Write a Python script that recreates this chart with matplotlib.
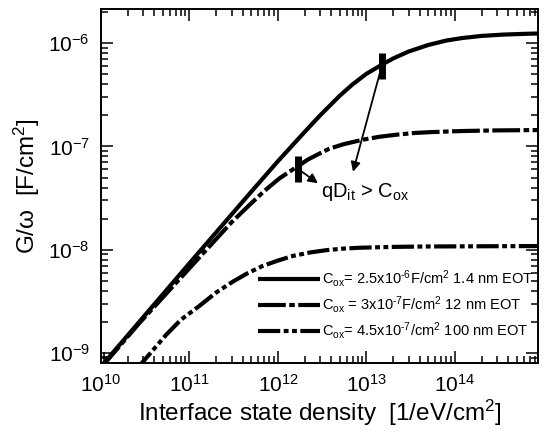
import matplotlib
matplotlib.use("Agg")
from matplotlib import pyplot as plt
from matplotlib.ticker import NullFormatter

plt.rcParams["font.family"] = ["Liberation Sans", "DejaVu Sans"]
plt.rcParams["mathtext.fontset"] = "custom"
plt.rcParams["mathtext.rm"] = "Liberation Sans"
plt.rcParams["mathtext.it"] = "Liberation Sans:italic"
plt.rcParams["mathtext.bf"] = "Liberation Sans:bold"
plt.rcParams["axes.unicode_minus"] = False
plt.rcParams["lines.scale_dashes"] = False

# ---- interface state density [1/eV/cm^2] and G/omega [F/cm^2]
dit_1 = [1e10, 1e11, 5e11, 1e12, 2e12, 3e12, 5e12, 7e12, 1e13, 1.5e13,
         2e13, 3e13, 5e13, 8e13, 1.2e14, 2e14, 3.5e14, 6e14, 8.7e14]
g_1 = [7.4e-10, 7.4e-9, 3.65e-8, 7.2e-8, 1.38e-7, 2.0e-7, 3.1e-7, 4.0e-7,
       5.05e-7, 6.2e-7, 7.1e-7, 8.3e-7, 9.6e-7, 1.06e-6, 1.12e-6,
       1.175e-6, 1.21e-6, 1.23e-6, 1.24e-6]

dit_2 = [1e10, 2.7e10, 6.7e10, 1.67e11, 3e11, 4.76e11, 7e11, 1.04e12,
         1.61e12, 2.2e12, 3e12, 3.8e12, 5.5e12, 9e12, 1.4e13, 2.2e13,
         3.5e13, 5.2e13, 1.2e14, 3e14, 8.7e14]
g_2 = [7.2e-10, 1.94e-9, 4.55e-9, 1.07e-8, 1.85e-8, 2.71e-8, 3.7e-8, 4.91e-8,
       6.3e-8, 7.5e-8, 8.6e-8, 9.5e-8, 1.05e-7, 1.16e-7, 1.24e-7, 1.3e-7,
       1.35e-7, 1.375e-7, 1.41e-7, 1.43e-7, 1.44e-7]

dit_3 = [2.5e10, 3.15e10, 5.41e10, 8e10, 1.29e11, 2e11, 3.08e11, 4.5e11,
         6.67e11, 1e12, 1.47e12, 2.3e12, 3.52e12, 5.5e12, 8.37e12, 2e13,
         4.77e13, 2e14, 8.7e14]
g_3 = [6.9e-10, 8.7e-10, 1.49e-9, 2.1e-9, 2.85e-9, 3.85e-9, 4.9e-9, 5.9e-9,
       6.95e-9, 7.85e-9, 8.7e-9, 9.4e-9, 9.9e-9, 1.025e-8, 1.045e-8,
       1.065e-8, 1.075e-8, 1.08e-8, 1.085e-8]

labels = [
    r"C$_{\rm ox}$= 2.5x10$^{\rm ‐6}$F/cm$^{\rm 2}$ 1.4 nm EOT",
    r"C$_{\rm ox}$ = 3x10$^{\rm ‐7}$F/cm$^{\rm 2}$ 12 nm EOT",
    r"C$_{\rm ox}$= 4.5x10$^{\rm ‐7}$/cm$^{\rm 2}$ 100 nm EOT",
]

# where qDit reaches Cox on the two upper curves
mark_dit = [1.49e13, 1.67e12]
mark_g = [6.0e-7, 6.1e-8]
arrow_heads_dit = [7.05e12, 2.83e12]
arrow_heads_g = [5.69e-8, 4.4e-8]

fig = plt.figure(figsize=(5.46, 4.32), dpi=100)
ax = fig.add_axes([0.185, 0.1597, 0.8004, 0.8194])

lw = 3.0
ax.plot(dit_1, g_1, color="black", lw=lw, solid_capstyle="butt", label=labels[0])
ax.plot(dit_2, g_2, color="black", lw=lw, dashes=(20, 2.5, 4, 2.5), label=labels[1])
ax.plot(dit_3, g_3, color="black", lw=lw,
        dashes=(16, 2.5, 3.5, 2.5, 3.5, 2.5), label=labels[2])

ax.plot(mark_dit, mark_g, ls="none", marker="|", ms=19, mew=5, color="black")
ax.plot([1.08e10], [9.2e-10], ls="none", marker="+", ms=7, mew=1.2, color="black")
for i in range(2):
    ax.annotate("", xy=(arrow_heads_dit[i], arrow_heads_g[i]),
                xytext=(mark_dit[i], mark_g[i]),
                arrowprops=dict(arrowstyle="-|>", color="black", lw=1.3,
                                mutation_scale=14, shrinkA=0, shrinkB=0))
ax.text(3.09e12, 3.24e-8, r"qD$_{\rm it}$ > C$_{\rm ox}$", fontsize=14.5,
        ha="left", va="baseline")

ax.set_xscale("log")
ax.set_yscale("log")
ax.set_xlim(1e10, 8.7e14)
ax.set_ylim(8.0e-10, 2.14e-6)
ax.set_xticks([1e10, 1e11, 1e12, 1e13, 1e14])
ax.set_yticks([1e-9, 1e-8, 1e-7, 1e-6])
ax.xaxis.set_minor_formatter(NullFormatter())
ax.yaxis.set_minor_formatter(NullFormatter())

ax.set_xlabel(r"Interface state density  [1/eV/cm$^{\rm 2}$]", fontsize=17.5, labelpad=1)
ax.set_ylabel(r"G/ω  [F/cm$^{\rm 2}$]", fontsize=17.5, labelpad=5)
ax.tick_params(which="both", direction="in", top=True, right=True,
               labelsize=15, width=1.1)
ax.tick_params(which="major", length=8.5, pad=8)
ax.tick_params(which="minor", length=5)
for spine in ax.spines.values():
    spine.set_linewidth(1.4)

ax.legend(loc="upper left", bbox_to_anchor=(0.359, 0.267), frameon=False,
          fontsize=10.5, handlelength=4.25, handletextpad=0.13, labelspacing=0.33,
          borderpad=0, borderaxespad=0)

fig.savefig("out.png", dpi=100)
